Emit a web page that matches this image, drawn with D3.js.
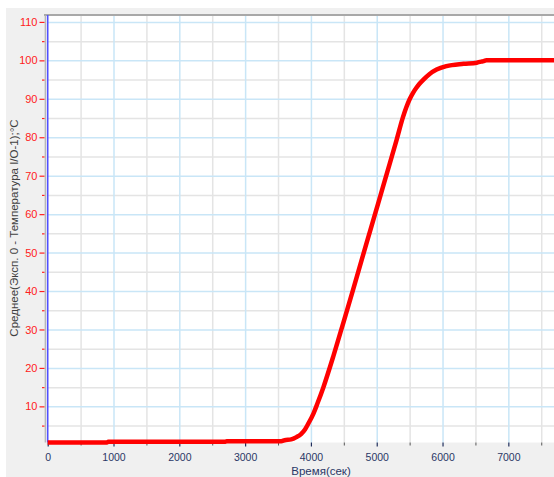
<!DOCTYPE html>
<html>
<head>
<meta charset="utf-8">
<script src="https://cdn.jsdelivr.net/npm/d3@7"></script>
<style>
  body { margin: 0; background: #fff; }
  svg { display: block; }
  .grid .domain { display: none; }
</style>
</head>
<body>
<div id="chart"></div>
<script>
// measured series: time (sec) vs mean temperature
const timeSec = [0, 900, 920, 2700, 2720, 3550, 3600, 3700, 3780, 3850, 3910, 3960, 4040, 4100, 4190, 4340, 4490, 4640, 4800, 4920, 5020, 5200, 5300, 5400, 5450, 5500, 5550, 5600, 5650, 5710, 5800, 5910, 6060, 6320, 6520, 6600, 6670, 7700];
const tempC = [0.6, 0.6, 0.8, 0.8, 0.95, 0.95, 1.2, 1.4, 2.0, 2.8, 4.0, 5.5, 8.2, 10.8, 15, 23, 31.6, 40.3, 49.8, 56.8, 62.7, 73.3, 79.2, 85.3, 87.8, 89.9, 91.5, 92.8, 93.9, 95.0, 96.4, 97.6, 98.5, 99.1, 99.4, 99.7, 100, 100];

const xMajor = [0, 1000, 2000, 3000, 4000, 5000, 6000, 7000];
const xMinor = [500, 1500, 2500, 3500, 4500, 5500, 6500, 7500];
const yMajor = [10, 20, 30, 40, 50, 60, 70, 80, 90, 100, 110];
const yMinor = [5, 15, 25, 35, 45, 55, 65, 75, 85, 95, 105];

const xTitle = "Время(сек)";
const yTitle = "Среднее(Эксп. 0 - Температура I/O-1);°C";

var width = 554, height = 477;
var plotL = 47.7, plotR = 554.4, plotT = 15, plotB = 442.5;

var svg = d3.select("#chart").append("svg")
    .attr("width", width)
    .attr("height", height)
    .style("font-family", "'Liberation Sans', Arial, sans-serif");

// panel background
svg.append("rect").attr("x", 6).attr("y", 8)
    .attr("width", width - 6).attr("height", height - 8)
    .attr("fill", "#f0f0f0");
svg.append("rect").attr("x", plotL).attr("y", plotT)
    .attr("width", width - plotL).attr("height", plotB - plotT)
    .attr("fill", "#fff");

var x = d3.scaleLinear().domain([0, 7700]).range([plotL, plotR]);
var y = d3.scaleLinear().domain([0.6, 111.8]).range([plotB, plotT]);

// grid lines: minor gray, major light blue
function vgrid(vals, color) {
  svg.append("g").attr("class", "grid")
    .attr("transform", "translate(0," + plotB + ")")
    .call(d3.axisBottom(x).tickValues(vals).tickSize(-(plotB - plotT)).tickFormat(""))
    .selectAll("line").attr("stroke", color).attr("stroke-width", 1.5);
}
function hgrid(vals, color) {
  svg.append("g").attr("class", "grid")
    .attr("transform", "translate(" + plotL + ",0)")
    .call(d3.axisLeft(y).tickValues(vals).tickSize(-(width - plotL)).tickFormat(""))
    .selectAll("line").attr("stroke", color).attr("stroke-width", 1.5);
}
vgrid(xMinor, "#e4e4e4");
hgrid(yMinor, "#e4e4e4");
vgrid(xMajor.filter(d => d > 0), "#c9e6f7");
hgrid(yMajor, "#c9e6f7");

// top border and left axis lines
svg.append("line").attr("x1", 44).attr("x2", width).attr("y1", plotT).attr("y2", plotT)
    .attr("stroke", "#a8a8a8").attr("stroke-width", 2);
svg.append("line").attr("x1", 45.3).attr("x2", 45.3).attr("y1", plotT).attr("y2", plotB)
    .attr("stroke", "#b0b0b0").attr("stroke-width", 1.2);
svg.append("line").attr("x1", plotL).attr("x2", plotL).attr("y1", plotT).attr("y2", plotB)
    .attr("stroke", "#5050ff").attr("stroke-width", 1.6);

// y axis (red)
var yAx = svg.append("g").attr("transform", "translate(44.5,0)")
    .call(d3.axisLeft(y).tickValues(yMajor).tickSize(5).tickPadding(2));
yAx.select(".domain").remove();
yAx.selectAll("line").attr("stroke", "#ff2020").attr("stroke-width", 1.2);
yAx.selectAll("text").attr("fill", "#ff2020")
    .style("font-family", "'Liberation Sans Narrow', 'Liberation Sans', sans-serif")
    .style("font-size", "11px");
var yMin = svg.append("g").attr("transform", "translate(44.5,0)")
    .call(d3.axisLeft(y).tickValues(yMinor).tickSize(2.5).tickFormat(""));
yMin.select(".domain").remove();
yMin.selectAll("line").attr("stroke", "#ff2020").attr("stroke-width", 1.2);

// x axis (navy)
var xAx = svg.append("g").attr("transform", "translate(0," + plotB + ")")
    .call(d3.axisBottom(x).tickValues(xMajor).tickSize(4).tickPadding(7).tickFormat(d3.format("d")));
xAx.select(".domain").remove();
xAx.selectAll("line").attr("stroke", "#1f2d5c").attr("stroke-width", 1.2);
xAx.selectAll("text").attr("fill", "#2a3766").style("font-size", "10.5px");
var xMin = svg.append("g").attr("transform", "translate(0," + plotB + ")")
    .call(d3.axisBottom(x).tickValues(xMinor).tickSize(3).tickFormat(""));
xMin.select(".domain").remove();
xMin.selectAll("line").attr("stroke", "#555").attr("stroke-width", 1);

// titles
svg.append("text").attr("x", 321).attr("y", 475)
    .attr("text-anchor", "middle").attr("fill", "#2a3766")
    .style("font-size", "11.5px").text(xTitle);
svg.append("text")
    .attr("transform", "translate(18,228) rotate(-90)")
    .attr("text-anchor", "middle").attr("fill", "#404040")
    .style("font-size", "11.5px").text(yTitle);

// the curve
var data = timeSec.map((t, i) => ({t: t, v: tempC[i]}));
svg.append("path").datum(data)
    .attr("fill", "none")
    .attr("stroke", "#ff0000")
    .attr("stroke-width", 4.5)
    .attr("stroke-linejoin", "round")
    .attr("d", d3.line().x(d => x(d.t)).y(d => y(d.v)).curve(d3.curveMonotoneX));
</script>
</body>
</html>
